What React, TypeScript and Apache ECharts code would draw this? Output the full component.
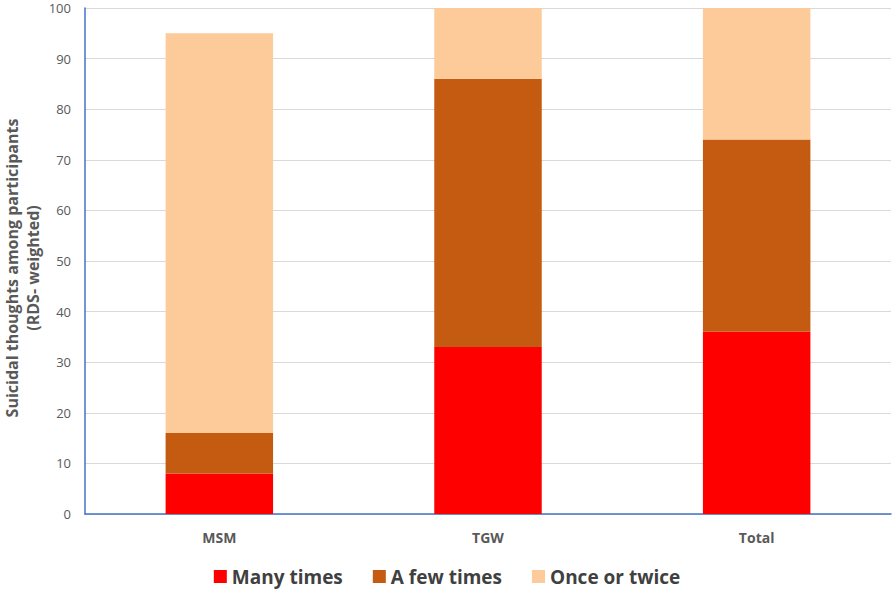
import React, { useEffect, useRef } from "react";
import * as echarts from "echarts";

const categories = ["MSM", "TGW", "Total"];
const manyTimes = [8, 33, 36];
const aFewTimes = [8, 53, 38];
const onceOrTwice = [79, 14, 26];
const yTicks = { min: 0, max: 100, interval: 10 };
const yTitle = "Suicidal thoughts among participants\n(RDS- weighted)";

export default function App() {
  const ref = useRef<HTMLDivElement>(null);
  useEffect(() => {
    document.body.style.margin = "0";
    const chart = echarts.init(ref.current!, null, { renderer: "svg" });
    const font = "'Open Sans', 'Noto Sans', sans-serif";
    const mk = (name: string, data: number[], color: string) => ({
      name,
      type: "bar",
      stack: "s",
      data,
      barWidth: "40%",
      itemStyle: { color },
    });
    chart.setOption({
      animation: false,
      textStyle: { fontFamily: font },
      grid: { left: 85, right: 3, top: 8, bottom: 75, containLabel: false, outerBoundsMode: "none" },
      legend: {
        top: 562,
        left: "center",
        itemWidth: 13,
        itemHeight: 13,
        itemGap: 30,
        icon: "rect",
        textStyle: { fontSize: 19, fontWeight: "bold", color: "#404040", fontFamily: font },
        data: ["Many times", "A few times", "Once or twice"],
      },
      graphic: [
        {
          type: "text",
          x: 22,
          y: 268,
          rotation: Math.PI / 2,
          style: {
            text: yTitle,
            fontSize: 16,
            fontWeight: "bold",
            fill: "#595959",
            fontFamily: font,
            lineHeight: 21,
            align: "center",
            verticalAlign: "middle",
          },
        },
      ],
      xAxis: {
        type: "category",
        data: categories,
        axisLine: { lineStyle: { color: "#4472C4", width: 1.5 } },
        axisTick: { show: false },
        axisLabel: { fontSize: 14, fontWeight: "bold", color: "#595959", margin: 16 },
      },
      yAxis: {
        type: "value",
        min: yTicks.min,
        max: yTicks.max,
        interval: yTicks.interval,
        axisLine: { show: true, lineStyle: { color: "#4472C4", width: 1.5 } },
        axisTick: { show: false },
        axisLabel: { fontSize: 13, color: "#595959", margin: 14 },
        splitLine: { lineStyle: { color: "#D9D9D9", width: 1 } },
      },
      series: [
        mk("Many times", manyTimes, "#FF0000"),
        mk("A few times", aFewTimes, "#C55A11"),
        mk("Once or twice", onceOrTwice, "#FDCA99"),
      ],
    });
    return () => chart.dispose();
  }, []);
  return <div ref={ref} style={{ width: 894, height: 589 }} />;
}
